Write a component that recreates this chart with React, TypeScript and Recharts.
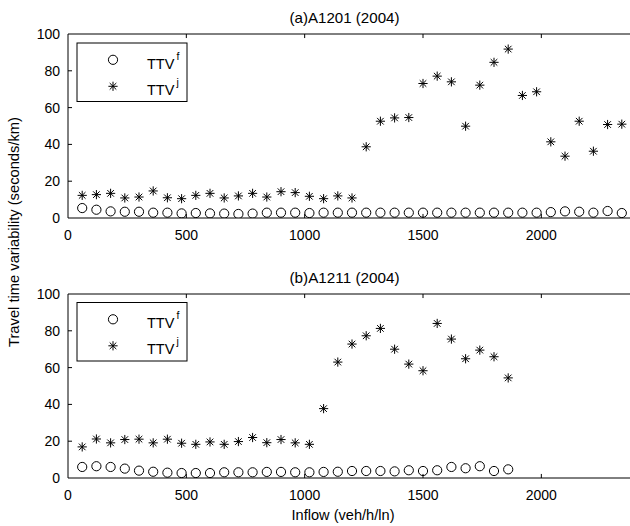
import React from 'react';
import { ScatterChart, Scatter, XAxis, YAxis, ReferenceLine } from 'recharts';

const inflowA = [60, 120, 180, 240, 300, 360, 420, 480, 540, 600, 660, 720, 780, 840, 900, 960, 1020, 1080, 1140, 1200, 1260, 1320, 1380, 1440, 1500, 1560, 1620, 1680, 1740, 1800, 1860, 1920, 1980, 2040, 2100, 2160, 2220, 2280, 2340];
const ttvFA = [5.4, 4.5, 3.6, 3.4, 3.4, 2.9, 2.9, 2.5, 2.7, 2.5, 2.4, 2.2, 2.4, 2.9, 2.9, 2.9, 2.7, 2.9, 2.9, 2.9, 2.9, 2.9, 2.9, 2.9, 2.9, 2.9, 2.9, 2.9, 2.9, 2.9, 2.9, 2.9, 2.9, 3.2, 3.6, 3.4, 2.9, 3.8, 2.7];
const ttvJA = [12.3, 12.7, 13.4, 10.9, 11.4, 14.7, 11, 10.5, 12.3, 13.4, 10.9, 12, 13.4, 11.4, 14.3, 13.8, 11.8, 10.5, 12, 10.9, 38.7, 52.6, 54.4, 54.6, 73.1, 77.1, 74, 49.9, 72.2, 84.6, 91.8, 66.6, 68.6, 41.4, 33.6, 52.6, 36.3, 50.8, 51];

const inflowB = [60, 120, 180, 240, 300, 360, 420, 480, 540, 600, 660, 720, 780, 840, 900, 960, 1020, 1080, 1140, 1200, 1260, 1320, 1380, 1440, 1500, 1560, 1620, 1680, 1740, 1800, 1860];
const ttvFB = [6, 6.4, 6, 5.1, 4, 3.4, 2.9, 2.7, 2.7, 2.7, 3.1, 3.1, 3.1, 3.3, 3.3, 3.1, 3.1, 3.3, 3.4, 3.8, 3.8, 3.8, 3.6, 4.2, 3.8, 4.2, 6, 5.3, 6.4, 3.8, 4.7];
const ttvJB = [16.9, 21.2, 19.1, 20.9, 21.1, 19.1, 21.1, 18.9, 18.3, 19.6, 18.3, 19.8, 22, 19.2, 20.9, 19.1, 18.3, 37.7, 63, 72.8, 77.3, 81.3, 70, 61.9, 58.3, 84, 75.5, 64.8, 69.5, 65.9, 54.4];

const xTicks = [0, 500, 1000, 1500, 2000];
const yTicks = [0, 20, 40, 60, 80, 100];
const titleA = '(a)A1201 (2004)';
const titleB = '(b)A1211 (2004)';
const xLabel = 'Inflow (veh/h/ln)';
const yLabel = 'Travel time variability (seconds/km)';

const FONT = '"Liberation Sans", Arial, sans-serif';

const toPts = (xs: number[], ys: number[]) => xs.map((x, i) => ({ x, y: ys[i] }));

const Circle = ({ cx, cy }: any) => (
  <circle cx={cx} cy={cy} r={4.6} fill="none" stroke="#000" strokeWidth={1} />
);

const Star = ({ cx, cy }: any) => {
  const a = 4.6;
  const d = 3.3;
  return (
    <g stroke="#000" strokeWidth={1}>
      <line x1={cx - a} y1={cy} x2={cx + a} y2={cy} />
      <line x1={cx} y1={cy - a} x2={cx} y2={cy + a} />
      <line x1={cx - d} y1={cy - d} x2={cx + d} y2={cy + d} />
      <line x1={cx - d} y1={cy + d} x2={cx + d} y2={cy - d} />
    </g>
  );
};

const Panel = ({ f, j }: { f: { x: number; y: number }[]; j: { x: number; y: number }[] }) => (
  <ScatterChart width={636} height={248} margin={{ top: 34, right: 0, bottom: 0, left: 0 }}>
    <XAxis
      type="number"
      dataKey="x"
      domain={[0, 2400]}
      ticks={xTicks}
      interval={0}
      allowDataOverflow
      height={30}
      tickSize={0}
      tickMargin={12}
      axisLine={{ stroke: '#000', strokeWidth: 1 }}
      tickLine={false}
      tick={{ fill: '#000', fontSize: 14, fontFamily: FONT }}
    />
    <YAxis
      type="number"
      dataKey="y"
      domain={[0, 100]}
      ticks={yTicks}
      interval={0}
      allowDataOverflow
      width={68}
      tickSize={0}
      tickMargin={8}
      axisLine={{ stroke: '#000', strokeWidth: 1 }}
      tickLine={false}
      tick={{ fill: '#000', fontSize: 14, fontFamily: FONT }}
    />
    <ReferenceLine y={100} stroke="#000" strokeWidth={1} />
    {xTicks.slice(1).map((t) => (
      <ReferenceLine key={'b' + t} segment={[{ x: t, y: 0 }, { x: t, y: 2.2 }]} stroke="#000" strokeWidth={1} />
    ))}
    {xTicks.slice(1).map((t) => (
      <ReferenceLine key={'t' + t} segment={[{ x: t, y: 100 }, { x: t, y: 97.8 }]} stroke="#000" strokeWidth={1} />
    ))}
    {yTicks.slice(1, -1).map((t) => (
      <ReferenceLine key={'l' + t} segment={[{ x: 0, y: t }, { x: 17, y: t }]} stroke="#000" strokeWidth={1} />
    ))}
    <Scatter data={f} shape={(p: any) => <Circle cx={p.cx} cy={p.cy} />} isAnimationActive={false} />
    <Scatter data={j} shape={(p: any) => <Star cx={p.cx} cy={p.cy} />} isAnimationActive={false} />
  </ScatterChart>
);

const LegendBox = ({ top }: { top: number }) => (
  <g fontFamily={FONT} fill="#000">
    <rect x={77} y={top} width={110} height={58.5} fill="#fff" stroke="#000" strokeWidth={1} />
    <Circle cx={113} cy={top + 16.8} />
    <Star cx={113} cy={top + 43.3} />
    <text x={147} y={top + 25.6} fontSize={14.5}>
      TTV<tspan fontSize={10.5} dx={2} dy={-9}>f</tspan>
    </text>
    <text x={147} y={top + 51.6} fontSize={14.5}>
      TTV<tspan fontSize={10.5} dx={2} dy={-9}>j</tspan>
    </text>
  </g>
);

export default function App() {
  const a = { f: toPts(inflowA, ttvFA), j: toPts(inflowA, ttvJA) };
  const b = { f: toPts(inflowB, ttvFB), j: toPts(inflowB, ttvJB) };
  return (
    <div style={{ position: 'fixed', left: 0, top: 0, width: 630, height: 526, overflow: 'hidden', background: '#fff' }}>
      <div style={{ position: 'absolute', left: 0, top: 0 }}>
        <Panel f={a.f} j={a.j} />
      </div>
      <div style={{ position: 'absolute', left: 0, top: 260 }}>
        <Panel f={b.f} j={b.j} />
      </div>
      <svg width={630} height={526} style={{ position: 'absolute', left: 0, top: 0, pointerEvents: 'none' }}>
        <text x={344.5} y={22.7} textAnchor="middle" fontSize={14.5} textLength={110} lengthAdjust="spacingAndGlyphs" fontFamily={FONT} fill="#000">{titleA}</text>
        <text x={344.5} y={282.7} textAnchor="middle" fontSize={14.5} textLength={110} lengthAdjust="spacingAndGlyphs" fontFamily={FONT} fill="#000">{titleB}</text>
        <text x={343} y={520} textAnchor="middle" fontSize={14} textLength={103} lengthAdjust="spacingAndGlyphs" fontFamily={FONT} fill="#000">{xLabel}</text>
        <text
          transform="translate(14,232) rotate(-90)"
          textAnchor="middle"
          dy="0.35em"
          fontSize={14.5}
          textLength={230}
          lengthAdjust="spacingAndGlyphs"
          fontFamily={FONT}
          fill="#000"
        >
          {yLabel}
        </text>
        <LegendBox top={43} />
        <LegendBox top={302.5} />
      </svg>
    </div>
  );
}
